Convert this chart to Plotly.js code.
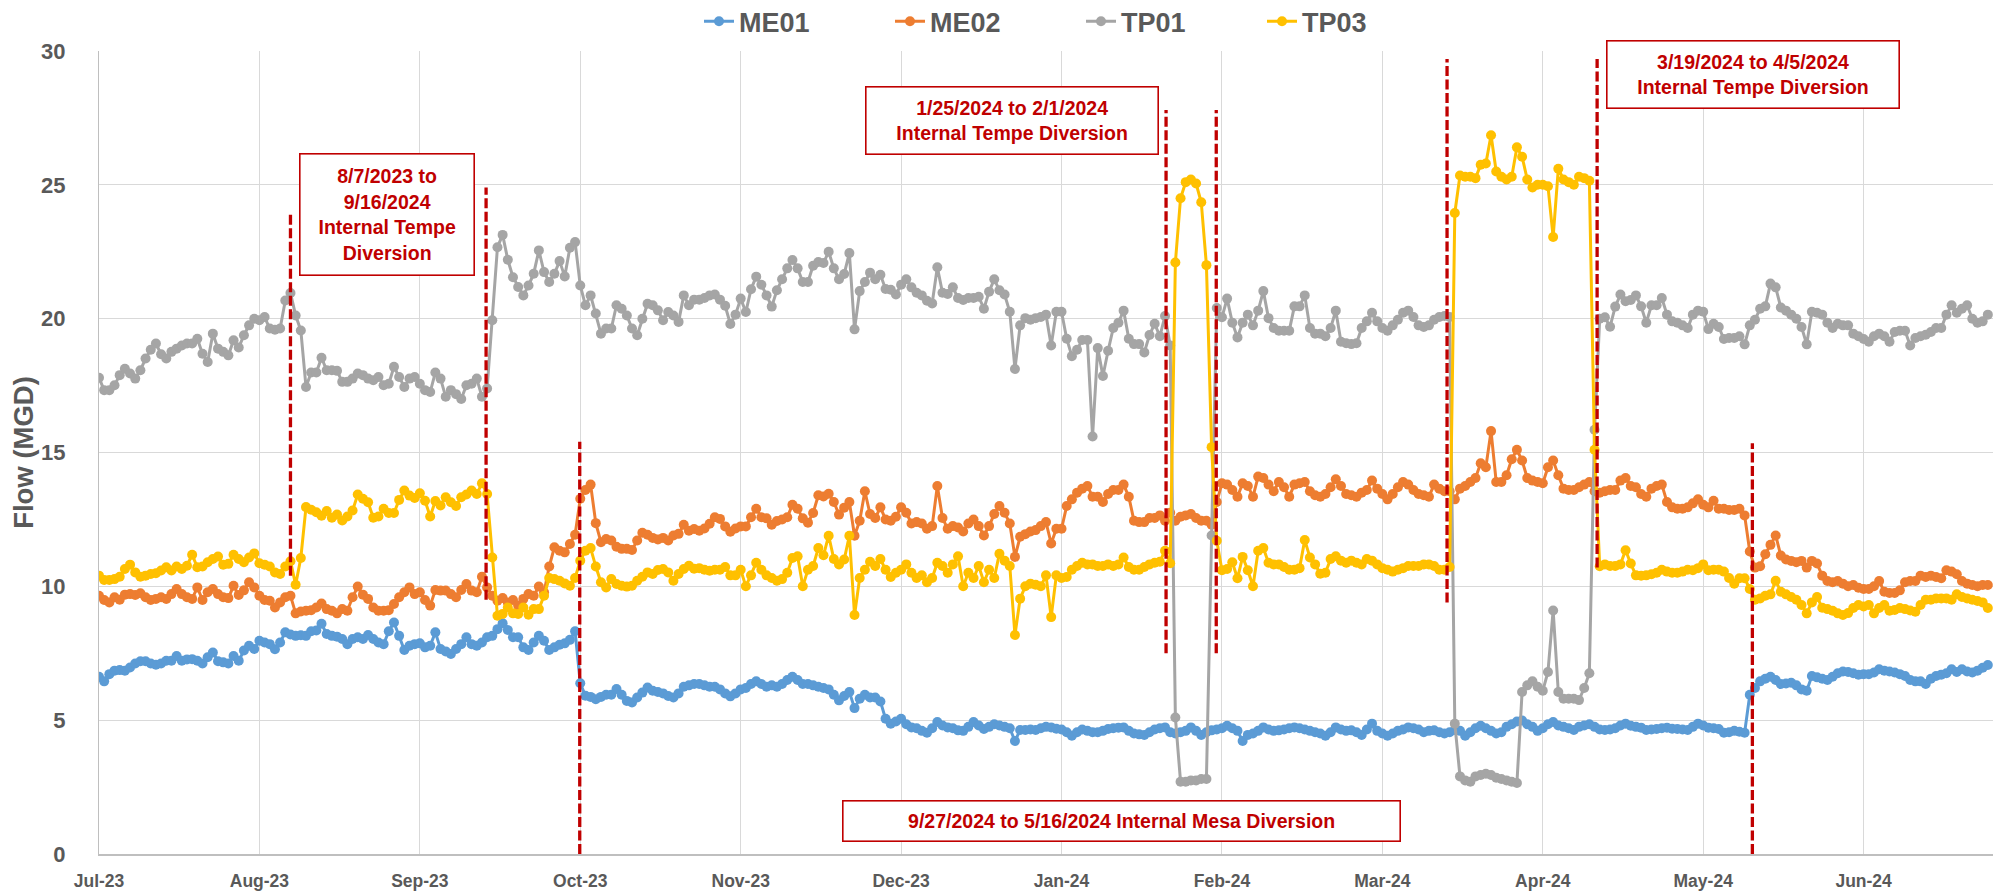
<!DOCTYPE html>
<html>
<head>
<meta charset="utf-8">
<script src="https://cdn.plot.ly/plotly-3.0.1.min.js"></script>
<style>
html, body { margin: 0; padding: 0; background: #ffffff; }
#chart { width: 2007px; height: 891px; }
</style>
</head>
<body>
<div id="chart"></div>
<script>
// ---------------- DATA (daily flow, MGD), starting 2023-07-01 ----------------
const START = { year: 2023, month: 6, day: 1 };

const ME01 = [
6.62,6.45,6.72,6.85,6.87,6.85,6.97,7.12,7.2,7.2,
7.12,7.07,7.12,7.22,7.22,7.4,7.22,7.27,7.28,7.22,
7.12,7.35,7.53,7.2,7.16,7.12,7.4,7.22,7.6,7.78,
7.66,7.97,7.9,7.84,7.65,7.9,8.28,8.2,8.15,8.17,
8.15,8.32,8.35,8.6,8.22,8.15,8.12,8.03,7.84,8.03,
8.1,8.03,8.18,8.03,7.9,7.84,8.32,8.65,8.15,7.62,
7.78,7.84,7.87,7.72,7.78,8.28,7.66,7.57,7.47,7.66,
7.84,8.1,7.84,7.78,7.9,8.1,8.15,8.4,8.62,8.37,
8.1,8.1,7.72,7.62,7.9,8.15,7.97,7.62,7.72,7.82,
7.87,8.0,8.32,6.38,5.91,5.87,5.78,5.87,5.95,5.95,
6.16,5.95,5.72,5.66,5.85,6.03,6.22,6.1,6.05,6.0,
5.9,5.85,6.0,6.25,6.3,6.35,6.35,6.3,6.25,6.25,
6.15,6.0,5.89,6.0,6.15,6.2,6.35,6.45,6.35,6.25,
6.3,6.25,6.35,6.5,6.62,6.5,6.35,6.35,6.3,6.25,
6.2,6.15,5.95,5.74,5.9,6.05,5.45,5.8,5.95,5.85,
5.85,5.7,5.05,4.87,4.95,5.05,4.85,4.73,4.7,4.6,
4.53,4.7,4.93,4.8,4.73,4.7,4.62,4.6,4.75,4.93,
4.8,4.67,4.75,4.85,4.8,4.75,4.7,4.22,4.63,4.63,
4.65,4.63,4.7,4.75,4.73,4.68,4.65,4.55,4.42,4.55,
4.65,4.6,4.55,4.55,4.6,4.67,4.7,4.72,4.73,4.6,
4.5,4.47,4.45,4.55,4.65,4.7,4.73,4.55,4.5,4.55,
4.6,4.73,4.6,4.45,4.55,4.62,4.65,4.7,4.79,4.7,
4.6,4.22,4.45,4.5,4.6,4.73,4.65,4.6,4.62,4.65,
4.7,4.73,4.7,4.65,4.6,4.55,4.5,4.42,4.55,4.73,
4.65,4.6,4.62,4.55,4.45,4.65,4.87,4.6,4.5,4.42,
4.5,4.6,4.65,4.73,4.7,4.65,4.55,4.6,4.62,4.55,
4.5,4.55,4.63,4.6,4.42,4.55,4.7,4.79,4.7,4.6,
4.5,4.55,4.75,4.85,4.95,4.99,4.85,4.75,4.6,4.7,
4.85,4.93,4.8,4.75,4.7,4.63,4.75,4.8,4.85,4.75,
4.65,4.63,4.65,4.7,4.8,4.87,4.79,4.75,4.72,4.63,
4.65,4.67,4.7,4.72,4.68,4.67,4.65,4.63,4.75,4.87,
4.8,4.72,4.7,4.67,4.53,4.55,4.6,4.57,4.53,5.95,
6.2,6.45,6.55,6.62,6.5,6.35,6.37,6.4,6.3,6.15,
6.1,6.65,6.6,6.55,6.5,6.62,6.75,6.82,6.8,6.75,
6.7,6.72,6.72,6.78,6.9,6.85,6.82,6.78,6.72,6.65,
6.5,6.45,6.45,6.35,6.55,6.65,6.7,6.75,6.9,6.8,
6.9,6.82,6.78,6.85,6.96,7.06
];

const ME02 = [
9.65,9.49,9.4,9.59,9.5,9.69,9.71,9.68,9.74,9.59,
9.49,9.53,9.59,9.53,9.71,9.9,9.71,9.59,9.53,9.96,
9.49,9.78,9.9,9.71,9.59,9.56,10.02,9.68,9.85,10.15,
9.96,9.65,9.49,9.46,9.21,9.4,9.59,9.65,8.99,9.06,
9.09,9.11,9.21,9.36,9.15,9.09,8.99,9.15,9.09,9.59,
9.99,9.69,9.53,9.21,9.09,9.09,9.11,9.34,9.59,9.78,
9.96,9.71,9.78,9.49,9.28,9.86,9.84,9.84,9.71,9.59,
9.86,10.09,9.84,9.78,10.36,9.96,9.65,9.46,9.56,9.4,
9.49,9.28,9.53,9.71,9.65,9.99,9.78,10.74,11.46,11.33,
11.27,11.58,11.93,13.27,13.6,13.8,12.36,11.65,11.77,11.71,
11.48,11.4,11.4,11.36,11.71,12.0,11.93,11.81,11.75,11.81,
11.71,11.9,11.96,12.3,12.08,12.14,12.08,12.16,12.34,12.58,
12.52,12.24,12.04,12.16,12.24,12.24,12.58,12.9,12.58,12.54,
12.3,12.44,12.5,12.58,13.05,12.9,12.54,12.38,12.74,13.4,
13.36,13.46,13.15,12.68,12.94,13.15,11.89,12.45,13.55,12.7,
12.55,12.95,12.5,12.45,12.6,12.95,12.75,12.35,12.4,12.35,
12.15,12.25,13.75,12.55,12.15,12.25,12.2,12.05,12.35,12.5,
12.25,11.9,12.25,12.7,13.0,12.75,12.35,11.1,11.85,11.95,
12.05,12.1,12.25,12.4,11.6,12.15,12.15,13.0,13.25,13.5,
13.65,13.75,13.35,13.35,13.15,13.45,13.6,13.6,13.8,13.35,
12.45,12.4,12.4,12.55,12.55,12.65,12.45,12.75,12.45,12.6,
12.65,12.7,12.55,12.45,12.45,12.3,13.15,13.85,13.8,13.6,
13.35,13.85,13.75,13.35,14.1,14.05,13.8,13.55,13.9,13.7,
13.35,13.8,13.85,13.9,13.55,13.4,13.35,13.45,13.7,14.0,
13.75,13.45,13.4,13.35,13.5,13.6,13.95,13.65,13.45,13.25,
13.45,13.7,13.9,13.8,13.6,13.45,13.4,13.35,13.8,13.65,
13.55,13.55,13.25,13.65,13.75,13.9,14.05,14.6,14.45,15.8,
13.9,13.9,14.15,14.75,15.1,14.7,14.05,13.95,13.9,13.85,
14.45,14.7,14.15,13.65,13.6,13.6,13.7,13.8,13.9,13.55,
13.5,13.55,13.6,13.6,13.95,14.05,13.75,13.7,13.45,13.35,
13.65,13.75,13.8,13.15,12.95,12.9,12.9,12.95,13.1,13.25,
13.05,12.95,13.2,12.9,12.9,12.85,12.85,12.9,12.65,11.3,
10.7,10.75,11.2,11.55,11.9,11.15,11.0,10.95,10.9,10.95,
10.7,10.95,10.85,10.4,10.2,10.15,10.2,10.1,10.0,10.05,
9.95,9.9,9.9,10.0,10.2,9.8,9.75,9.75,9.85,10.15,
10.2,10.2,10.4,10.35,10.4,10.35,10.3,10.6,10.55,10.45,
10.2,10.1,10.05,10.0,10.05,10.05
];

const TP01 = [
17.79,17.33,17.33,17.51,17.89,18.13,17.95,17.76,18.07,18.51,
18.84,19.07,18.67,18.51,18.76,18.88,19.0,19.07,19.07,19.25,
18.69,18.38,19.44,18.88,18.76,18.63,19.19,18.92,19.38,19.75,
20.0,19.94,20.06,19.63,19.59,19.63,20.68,20.96,20.12,19.56,
17.45,17.99,17.99,18.54,18.07,18.07,18.05,17.64,17.64,17.76,
17.95,17.89,17.76,17.7,17.82,17.51,17.57,18.2,17.82,17.45,
17.76,17.82,17.57,17.33,17.26,17.99,17.76,17.08,17.33,17.18,
17.0,17.51,17.57,17.76,17.08,17.39,19.94,22.67,23.13,22.2,
21.55,21.18,20.87,21.24,21.68,22.55,21.74,21.37,21.68,22.15,
21.58,22.65,22.86,21.24,20.5,20.87,20.19,19.44,19.63,19.63,
20.5,20.37,20.12,19.63,19.38,20.0,20.56,20.5,20.31,19.94,
20.25,20.12,19.88,20.87,20.5,20.71,20.71,20.77,20.87,20.9,
20.71,20.48,19.8,20.15,20.75,20.25,21.1,21.57,21.27,20.87,
20.45,21.06,21.47,21.88,22.19,21.88,21.37,21.37,21.98,22.12,
22.08,22.5,21.88,21.47,21.67,22.45,19.6,21.03,21.37,21.72,
21.47,21.64,21.11,21.08,20.9,21.27,21.47,21.17,20.97,20.87,
20.67,20.57,21.92,20.97,20.92,21.17,20.77,20.7,20.77,20.77,
20.82,20.37,21.01,21.47,21.06,20.9,20.26,18.12,19.75,20.02,
19.96,20.02,20.06,20.15,19.0,20.26,20.26,19.25,18.6,18.84,
19.2,19.2,15.6,18.9,17.86,18.8,19.65,19.85,20.3,19.25,
19.05,19.05,18.74,19.39,19.81,19.34,20.1,19.0,5.1,2.7,
2.7,2.75,2.75,2.8,2.8,11.9,20.4,20.05,20.75,19.85,
19.3,19.85,20.15,19.75,20.3,21.03,20.02,19.65,19.55,19.55,
19.55,20.46,20.46,20.87,19.65,19.44,19.44,19.34,19.65,20.3,
19.14,19.08,19.05,19.08,19.65,19.9,20.22,19.9,19.65,19.55,
19.75,19.96,20.22,20.3,20.06,19.75,19.69,19.75,19.96,20.06,
20.1,20.06,4.87,2.9,2.75,2.7,2.9,2.95,3.0,2.95,
2.85,2.8,2.75,2.7,2.65,6.05,6.3,6.45,6.25,6.1,
6.8,9.1,6.05,5.8,5.8,5.8,5.75,6.2,6.75,15.85,
20.0,20.05,19.7,20.45,20.9,20.65,20.7,20.87,20.46,19.85,
20.5,20.5,20.77,20.15,19.9,19.85,19.75,19.65,20.15,20.3,
20.26,19.61,19.81,19.69,19.24,19.28,19.28,19.34,19.04,19.75,
19.96,20.37,20.46,21.31,21.17,20.42,20.3,20.15,20.0,19.69,
19.04,20.26,20.22,20.15,19.85,19.65,19.81,19.75,19.75,19.44,
19.34,19.24,19.14,19.34,19.44,19.34,19.14,19.5,19.55,19.55,
19.0,19.28,19.34,19.4,19.5,19.65,19.65,20.15,20.5,20.22,
20.37,20.5,20.0,19.85,19.9,20.15
];

const TP03 = [
10.4,10.24,10.24,10.27,10.36,10.65,10.81,10.52,10.36,10.4,
10.46,10.49,10.59,10.71,10.59,10.74,10.65,10.77,11.18,10.71,
10.74,10.9,11.02,11.11,10.81,10.84,11.18,11.02,10.9,11.08,
11.23,10.86,10.81,10.74,10.52,10.46,10.74,10.94,10.06,11.06,
12.96,12.86,12.77,12.64,12.81,12.56,12.68,12.46,12.61,12.83,
13.43,13.27,13.14,12.56,12.61,12.9,12.74,12.74,13.23,13.58,
13.39,13.3,13.48,13.2,12.61,13.19,13.02,13.33,13.14,13.0,
13.33,13.43,13.58,13.45,13.85,13.45,11.08,8.9,8.97,9.21,
8.99,8.97,9.21,8.94,9.15,9.15,9.65,10.31,10.27,10.21,
10.11,10.02,10.31,10.96,11.33,11.43,10.74,10.15,9.96,10.27,
10.09,10.02,9.99,10.02,10.21,10.36,10.52,10.46,10.61,10.65,
10.52,10.21,10.46,10.65,10.77,10.66,10.68,10.62,10.58,10.62,
10.62,10.72,10.41,10.41,10.62,10.0,10.41,10.88,10.62,10.41,
10.31,10.21,10.27,10.51,11.06,11.12,10.0,10.62,10.76,11.43,
11.16,11.89,11.02,10.82,11.0,11.89,8.93,10.31,10.62,10.92,
10.76,11.02,10.62,10.35,10.51,10.62,10.82,10.51,10.31,10.41,
10.15,10.31,10.88,10.76,10.51,10.82,11.12,10.0,10.51,10.31,
10.76,10.15,10.62,10.31,11.22,10.96,10.76,8.18,9.54,10.0,
10.1,10.06,10.0,10.41,8.85,10.41,10.31,10.35,10.62,10.76,
10.88,10.82,10.82,10.76,10.76,10.82,10.76,10.82,11.08,10.72,
10.62,10.62,10.72,10.82,10.88,10.92,11.33,10.86,22.1,24.5,
25.1,25.2,25.05,24.35,22.0,15.2,11.7,10.6,10.65,10.9,
10.3,11.1,10.6,10.0,11.33,11.43,10.88,10.82,10.82,10.72,
10.62,10.62,10.68,11.73,11.08,10.82,10.47,10.51,11.02,11.12,
10.96,10.88,10.96,10.88,10.82,11.02,10.96,10.82,10.68,10.62,
10.55,10.62,10.68,10.76,10.76,10.76,10.82,10.82,10.76,10.62,
10.62,10.72,23.95,25.35,25.3,25.3,25.25,25.75,25.8,26.85,
25.5,25.3,25.2,25.3,26.4,26.05,25.2,24.9,25.0,25.0,
24.95,23.05,25.6,25.2,25.1,25.0,25.3,25.25,25.15,15.1,
10.75,10.82,10.76,10.76,10.82,11.35,10.85,10.41,10.4,10.41,
10.45,10.51,10.62,10.55,10.51,10.51,10.55,10.62,10.6,10.68,
10.82,10.6,10.62,10.62,10.55,10.31,10.1,10.3,10.3,9.9,
9.5,9.55,9.65,9.7,10.21,9.8,9.7,9.6,9.5,9.3,
8.99,9.4,9.6,9.2,9.15,9.09,8.99,8.93,9.0,9.19,
9.3,9.25,9.3,8.99,9.19,9.3,9.09,9.12,9.19,9.15,
9.1,9.05,9.3,9.5,9.5,9.55,9.55,9.55,9.5,9.7,
9.6,9.55,9.5,9.45,9.4,9.19
];

const seriesNames = ['ME01', 'ME02', 'TP01', 'TP03'];
const seriesValues = [ME01, ME02, TP01, TP03];

// month tick labels (one label every 31 daily categories, as in the source chart)
const monthTickIndex = [0, 31, 62, 93, 124, 155, 186, 217, 248, 279, 310, 341];
const monthLabels = ['Jul-23', 'Aug-23', 'Sep-23', 'Oct-23', 'Nov-23', 'Dec-23',
                     'Jan-24', 'Feb-24', 'Mar-24', 'Apr-24', 'May-24', 'Jun-24'];

// diversion notes
const noteTexts = [
  '8/7/2023 to<br>9/16/2024<br>Internal Tempe<br>Diversion',
  '1/25/2024 to 2/1/2024<br>Internal Tempe Diversion',
  '3/19/2024 to 4/5/2024<br>Internal Tempe Diversion',
  '9/27/2024 to 5/16/2024 Internal Mesa Diversion'
];

// ---------------- categories (one per day) ----------------
const dayLabels = ME01.map((_, i) => {
  const d = new Date(Date.UTC(START.year, START.month, START.day + i));
  return d.toISOString().slice(0, 10);
});

// ---------------- styling / geometry ----------------
const FONT = 'Liberation Sans, Arial, Helvetica, sans-serif';
const TEXT_GREY = '#595959';
const RED = '#C00000';
const COLORS = ['#5B9BD5', '#ED7D31', '#A5A5A5', '#FFC000'];
const LEGEND_WIDTHS = [146, 146, 136, 136];

const W = 2007, H = 891;
const M = { l: 99, r: 14, t: 51, b: 37, autoexpand: false };
const PW = W - M.l - M.r, PH = H - M.t - M.b;
const px2x = px => (px - M.l) / PW;
const px2y = py => (H - M.b - py) / PH;

// dashed divider lines (category position, top and bottom value)
const dividerStyle = [
  { at: 37.0,  top: 23.9,  bottom: 10.4 },
  { at: 74.8,  top: 24.9,  bottom: 9.5 },
  { at: 92.9,  top: 15.4,  bottom: 0 },
  { at: 206.2, top: 27.8,  bottom: 7.5 },
  { at: 215.9, top: 27.8,  bottom: 7.5 },
  { at: 260.5, top: 29.7,  bottom: 9.4 },
  { at: 289.5, top: 29.7,  bottom: 10.7 },
  { at: 319.5, top: 15.35, bottom: 0 }
];

// note boxes in pixels (center x, center y, width, height)
const noteBoxes = [
  { cx: 387.2,  cy: 214.5, w: 176.4, h: 123 },
  { cx: 1011.5, cy: 120.3, w: 294.2, h: 69.3 },
  { cx: 1752.6, cy: 74.0,  w: 294.0, h: 69.4 },
  { cx: 1121.4, cy: 821.2, w: 559.3, h: 42.4 }
];

const traces = seriesNames.map((name, k) => ({
  type: 'scatter',
  mode: 'lines+markers',
  name: name,
  x: dayLabels,
  y: seriesValues[k],
  line: { color: COLORS[k], width: 3 },
  marker: { color: COLORS[k], size: 10, line: { width: 0 } },
  legendwidth: LEGEND_WIDTHS[k],
  hoverinfo: 'x+y+name'
}));

const shapes = dividerStyle.map(d => ({
  type: 'line', xref: 'x', yref: 'y',
  x0: d.at, x1: d.at, y0: d.bottom, y1: d.top,
  line: { color: RED, width: 3.3, dash: '10px,3.5px' },
  layer: 'above'
}));

const BW = 1.6;
const annotations = noteTexts.map((t, i) => {
  const b = noteBoxes[i];
  return {
    xref: 'paper', yref: 'paper',
    x: px2x(b.cx), y: px2y(b.cy),
    xanchor: 'center', yanchor: 'middle',
    text: t, showarrow: false, align: 'center', valign: 'middle',
    font: { family: FONT, size: 19.5, color: RED, weight: 'bold' },
    bgcolor: '#ffffff', bordercolor: RED, borderwidth: BW, borderpad: 0,
    width: b.w - 2 * BW, height: b.h - 2 * BW
  };
});

const layout = {
  width: W, height: H,
  margin: M,
  paper_bgcolor: '#ffffff',
  plot_bgcolor: '#ffffff',
  font: { family: FONT, color: TEXT_GREY },
  showlegend: true,
  legend: {
    orientation: 'h',
    x: px2x(699), xanchor: 'left',
    y: 1 + (M.t - 21.7) / PH, yanchor: 'middle',
    font: { family: FONT, size: 27, color: TEXT_GREY, weight: 'bold' },
    bgcolor: 'rgba(0,0,0,0)',
    itemwidth: 30,
    entrywidthmode: 'pixels'
  },
  xaxis: {
    type: 'category',
    range: [0, 366],
    tickmode: 'array',
    tickvals: monthTickIndex.map(i => dayLabels[i]),
    ticktext: monthLabels,
    showgrid: true, gridcolor: '#D9D9D9', gridwidth: 1.3,
    showline: true, linecolor: '#BFBFBF', linewidth: 1.6,
    zeroline: false,
    ticks: '',
    ticklabelstandoff: 10,
    tickfont: { family: FONT, size: 17.5, color: TEXT_GREY, weight: 'bold' },
    fixedrange: true
  },
  yaxis: {
    range: [0, 30],
    tick0: 0, dtick: 5,
    showgrid: true, gridcolor: '#D9D9D9', gridwidth: 1.3,
    showline: true, linecolor: '#BFBFBF', linewidth: 1.4,
    zeroline: false,
    ticks: '',
    ticklabelstandoff: 28,
    tickfont: { family: FONT, size: 22, color: TEXT_GREY, weight: 'bold' },
    title: { text: 'Flow (MGD)', font: { family: FONT, size: 27.5, color: TEXT_GREY, weight: 'bold' } },
    fixedrange: true
  },
  shapes: shapes,
  annotations: annotations
};

Plotly.newPlot('chart', traces, layout, { displayModeBar: false, responsive: false });
</script>
</body>
</html>
